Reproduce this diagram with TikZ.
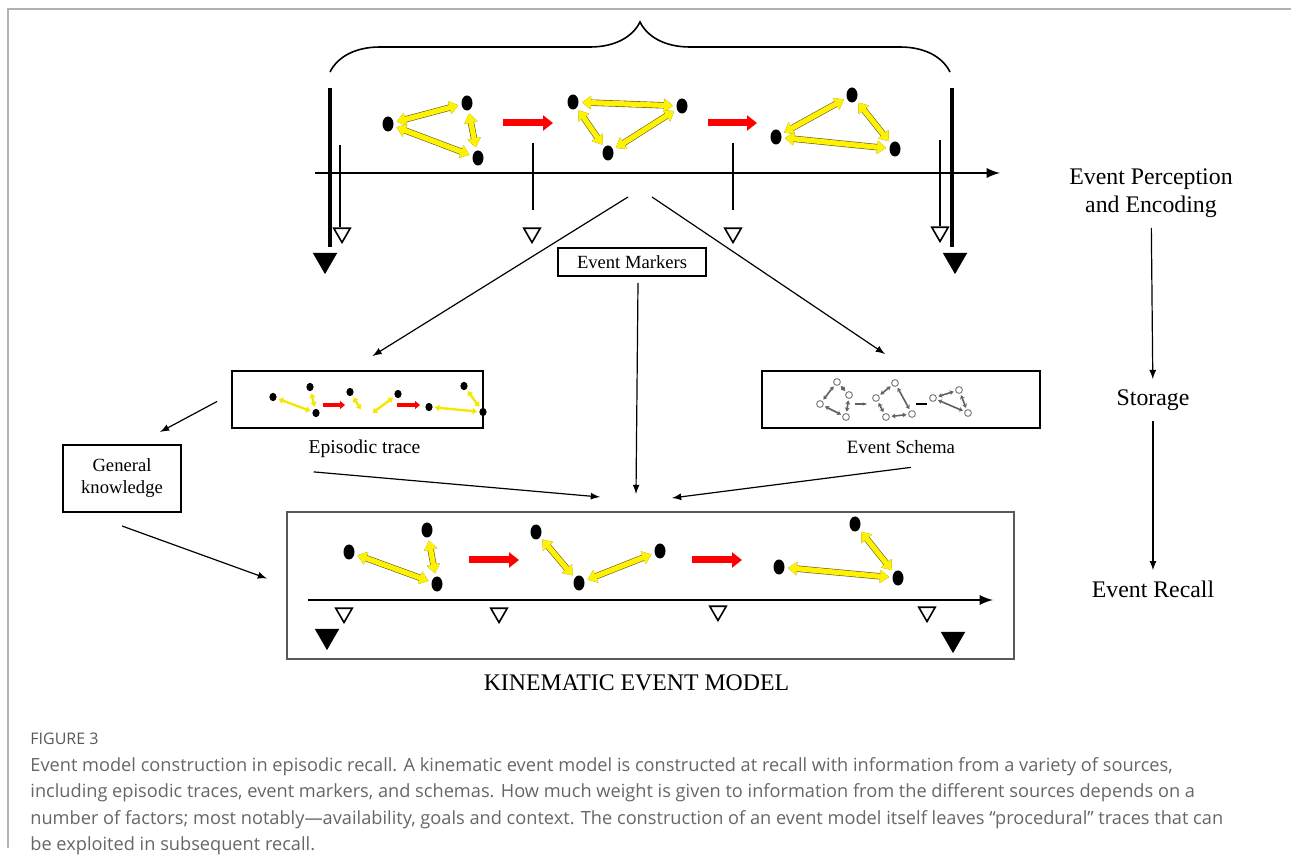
\documentclass[tikz,border=0pt]{standalone}
\usepackage{fontspec}
\setmainfont{Liberation Serif}
\newfontfamily\capfont{Open Sans}
\usetikzlibrary{arrows.meta,shapes.geometric,positioning,decorations.pathreplacing}

\begin{document}
\begin{tikzpicture}[x=0.5pt, y=-0.5pt, > = latex]
    \tikzset{
      box/.style={draw, line width=1pt, inner sep=0pt},
      lbl/.style={font=\fontsize{11.9}{14}\selectfont, inner sep=5pt, align=center},
      dot/.style={ellipse, fill=black, inner sep=0pt, minimum width=5.5pt, minimum height=7.5pt},
      sdot/.style={ellipse, fill=black, inner sep=0pt, minimum width=3.6pt, minimum height=4.2pt},
      odot/.style={circle, draw=gray, line width=0.5pt, inner sep=0pt, minimum size=3.4pt},
      yarr/.style={{Triangle[length=4.5pt,width=6.5pt]}-{Triangle[length=4.5pt,width=6.5pt]}, yellow, line width=2.6pt, shorten <=1.5pt, shorten >=1.5pt, preaction={draw=olive!60!black, line width=3.2pt}},
      syarr/.style={{Triangle[length=2.2pt,width=3.2pt]}-{Triangle[length=2.2pt,width=3.2pt]}, yellow!90!olive, line width=1.2pt, shorten <=1pt, shorten >=1pt},
      sarr/.style={{Stealth[length=2pt,width=2.4pt]}-{Stealth[length=2pt,width=2.4pt]}, gray!75!black, line width=0.8pt, shorten <=0.8pt, shorten >=0.8pt},
      rarr/.style={-{Triangle[length=5pt,width=7.5pt]}, red, line width=3.5pt},
      srarr/.style={-{Triangle[length=2.5pt,width=4pt]}, red, line width=1.8pt},
      otri/.style={regular polygon, regular polygon sides=3, shape border rotate=180, draw, line width=0.8pt, inner sep=0pt, minimum size=9.5pt},
      ftri/.style={otri, fill=black, minimum size=12.5pt},
      conn/.style={->, line width=0.6pt},
    }
    \useasboundingbox (0,0) rectangle (1291,855);
    \draw[gray!60, line width=0.8pt] (8,848) -- (8,9) -- (1291,9);

    % encoding: timeline with event boundaries
    \draw[decorate, decoration={brace, amplitude=25pt}, line width=0.8pt] (330,72) -- (950,72);
    \draw[->, line width=1.3pt] (315,173) -- (1000,173);
    \draw[line width=1.6pt] (330,88) -- (330,247);
    \draw[line width=1.6pt] (952,88) -- (952,247);
    \node[ftri] (b1) at (325,260) {};
    \node[ftri] (b2) at (955,260) {};
    \node[otri] (m1) at (342,233) {};
    \node[otri] (m2) at (532,233) {};
    \node[otri] (m3) at (733,233) {};
    \node[otri] (m4) at (940,232) {};
    \draw[line width=0.7pt] (340,145) -- (m1.north -| 340,0);
    \draw[line width=0.7pt] (533,143) -- (533,210);
    \draw[line width=0.7pt] (733,143) -- (733,210);
    \draw[line width=0.7pt] (940,140) -- (m4.north -| 940,0);

    \node[dot] (a1) at (388,124) {};
    \node[dot] (a2) at (467,103) {};
    \node[dot] (a3) at (478,158) {};
    \node[dot] (c1) at (573,102) {};
    \node[dot] (c2) at (682,106) {};
    \node[dot] (c3) at (608,153) {};
    \node[dot] (d1) at (776,137) {};
    \node[dot] (d2) at (852,95) {};
    \node[dot] (d3) at (895,149) {};
    \draw[yarr] (a1) -- (a2);
    \draw[yarr] (a1) -- (a3);
    \draw[yarr] (a2) -- (a3);
    \draw[yarr] (c1) -- (c2);
    \draw[yarr] (c1) -- (c3);
    \draw[yarr] (c3) -- (c2);
    \draw[yarr] (d1) -- (d2);
    \draw[yarr] (d2) -- (d3);
    \draw[yarr] (d1) -- (d3);
    \draw[rarr] (503,123) -- (553,123);
    \draw[rarr] (708,123) -- (757,123);

    % sources
    \node[box, font=\fontsize{9.3}{11}\selectfont, minimum width=74pt, minimum height=14pt] (em) at (632,262) {Event Markers};
    \node[box, minimum width=125.5pt, minimum height=28.5pt] (ep) at (357.5,399.5) {};
    \node[box, minimum width=139pt, minimum height=28.5pt] (sch) at (901,399.5) {};
    \node[font=\fontsize{9.8}{11}\selectfont] (eplab) [below=2pt of ep, xshift=3.5pt] {Episodic trace};
    \node[font=\fontsize{9.4}{11}\selectfont] (schlab) [below=2pt of sch] {Event Schema};
    \node[box, font=\fontsize{9.3}{11}\selectfont, align=center, minimum width=59pt, minimum height=33.5pt] (gk) at (122,478.5) {General\\knowledge};

    \node[sdot] (g1) at (273,397) {};
    \node[sdot] (g2) at (310,387) {};
    \node[sdot] (g3) at (316,413) {};
    \node[sdot] (h1) at (350,392) {};
    \coordinate (h2) at (362,411);
    \coordinate (h3) at (371,414);
    \node[sdot] (h4) at (398,394) {};
    \node[sdot] (i1) at (429,407) {};
    \node[sdot] (i2) at (464,386) {};
    \node[sdot] (i3) at (483,412) {};
    \draw[syarr] (g1) -- (g3);
    \draw[syarr] (g2) -- (g3);
    \draw[syarr] (h1) -- (h2);
    \draw[syarr] (h3) -- (h4);
    \draw[syarr] (i1) -- (i3);
    \draw[syarr] (i2) -- (i3);
    \draw[srarr] (323,405) -- (345,405);
    \draw[srarr] (397,405) -- (420,405);

    \node[odot] (p1) at (837,382) {};
    \node[odot] (p2) at (849,395) {};
    \node[odot] (p3) at (820,404) {};
    \node[odot] (p4) at (846,417) {};
    \node[odot] (q1) at (895,383) {};
    \node[odot] (q2) at (876,398) {};
    \node[odot] (q3) at (886,417) {};
    \node[odot] (q4) at (912,414) {};
    \node[odot] (u1) at (933,398) {};
    \node[odot] (u2) at (959,390) {};
    \node[odot] (u3) at (968,413) {};
    \foreach \s/\t in {p1/p3, p1/p2, p3/p4, p2/p4, q2/q1, q1/q4, q2/q3, q3/q4, u1/u2, u1/u3, u2/u3}
      \draw[sarr] (\s) -- (\t);
    \draw[-{Stealth[length=2pt]}, gray!75!black, line width=0.9pt] (855,404) -- (867,404);
    \draw[line width=1.2pt] (916,404) -- (927,404);

    % recall
    \node[draw=gray!70!black, line width=1pt, minimum width=363.5pt, minimum height=73.5pt, inner sep=0pt] (km) at (650.5,585.5) {};
    \node[font=\fontsize{11.9}{14}\selectfont] (kmlab) [below=4pt of km, xshift=-7pt] {KINEMATIC EVENT MODEL};
    \draw[->, line width=1.3pt] (308,600) -- (993,600);
    \node[otri] (n1) at (344,613) {};
    \node[otri] (n2) at (499,613) {};
    \node[otri] (n3) at (718,611) {};
    \node[otri] (n4) at (927,612) {};
    \node[ftri] (k1) at (327,636) {};
    \node[ftri] (k2) at (953,639) {};

    \node[dot] (e1) at (349,552) {};
    \node[dot] (e2) at (427,530) {};
    \node[dot] (e3) at (437,584) {};
    \node[dot] (f1) at (536,532) {};
    \node[dot] (f2) at (579,583) {};
    \node[dot] (f3) at (660,551) {};
    \node[dot] (j1) at (779,567) {};
    \node[dot] (j2) at (855,524) {};
    \node[dot] (j3) at (898,578) {};
    \draw[yarr] (e1) -- (e3);
    \draw[yarr] (e2) -- (e3);
    \draw[yarr] (f1) -- (f2);
    \draw[yarr] (f2) -- (f3);
    \draw[yarr] (j1) -- (j3);
    \draw[yarr] (j2) -- (j3);
    \draw[rarr] (469,560) -- (519,560);
    \draw[rarr] (692,560) -- (742,560);

    % connectors
    \coordinate (ms1) at (628,197);
    \coordinate (ms2) at (652,197);
    \draw[conn] (ms1) -- ([xshift=7.5pt,yshift=7pt]ep.north);
    \draw[conn] (ms2) -- ([xshift=-8pt,yshift=8pt]sch.north);
    \draw[conn] ([xshift=3pt,yshift=-3pt]em.south) -- ([xshift=-7.25pt,yshift=8.5pt]km.north);
    \draw[conn] ([xshift=6pt,yshift=-3.5pt]eplab.south west) -- ([xshift=-25.25pt,yshift=7pt]km.north);
    \draw[conn] ([xshift=5pt,yshift=-3.5pt]schlab.south) -- ([xshift=10.75pt,yshift=6.5pt]km.north);
    \draw[conn] ([xshift=-7pt,yshift=-1pt]ep.west) -- ([xshift=19pt,yshift=6pt]gk.north);
    \draw[conn] ([yshift=-6.5pt]gk.south) -- ([xshift=-9.5pt,yshift=3.5pt]km.west);

    % stages
    \node[lbl] (perc) at (1151,193) {Event Perception\\and Encoding};
    \node[lbl] (stor) at (1153,400) {Storage};
    \node[lbl] (rec) at (1153,589) {Event Recall};
    \draw[conn] (perc) -- (stor);
    \draw[conn] (stor) -- (rec);

    % caption
    \node[anchor=base west, inner sep=0pt, text=gray!70!black, font=\capfont\fontsize{8}{9}\selectfont] (fig) at (30,744) {FIGURE 3};
    \node[anchor=north west, inner sep=0pt, align=left, text=gray!80!black, font=\capfont\fontsize{9.1}{13.2}\selectfont] (cap) at (30,757) {Event model construction in episodic recall. A kinematic event model is constructed at recall with information from a variety of sources,\\including episodic traces, event markers, and schemas. How much weight is given to information from the different sources depends on a\\number of factors; most notably—availability, goals and context. The construction of an event model itself leaves “procedural” traces that can\\be exploited in subsequent recall.};
\end{tikzpicture}
\end{document}
